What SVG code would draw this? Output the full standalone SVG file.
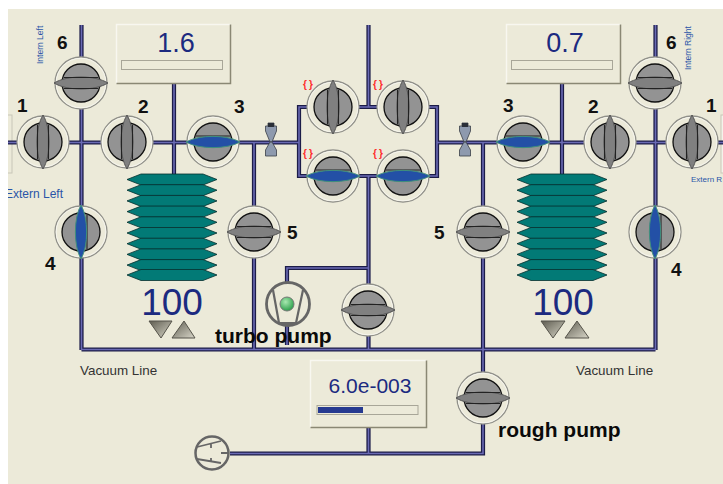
<svg xmlns="http://www.w3.org/2000/svg" xmlns:xlink="http://www.w3.org/1999/xlink" width="723" height="484" viewBox="0 0 723 484">
<style>
text{font-family:"Liberation Sans",Arial,sans-serif}
.po{fill:none;stroke:#1c1c48;stroke-width:4.2}
.pi{fill:none;stroke:#6a6ab4;stroke-width:1.6}
.num{font-size:19px;font-weight:bold;fill:#111}
.big{font-weight:bold;font-size:21px;fill:#0a0a0a}
.val{fill:#1c2a80}
.vac{font-size:13.400px;fill:#333}
.blue{fill:#2a55a8}
.red{font-size:10px;fill:#ff2a2a;letter-spacing:2px;font-weight:bold}
.ring{fill:#ecead9;stroke:#90908a;stroke-width:1.300}
.ring2{fill:none;stroke:#f6f5ee;stroke-width:1}
.disk{fill:#939393;stroke:#111;stroke-width:1.300}
.bg{fill:#ecead9}
.hl{fill:none;stroke:#f8f7f0;stroke-width:1.500}
.sh{fill:none;stroke:#8a8874;stroke-width:1.500}
.bar{fill:#ecead9;stroke:#a8a698}
.bl{fill:#027a76;stroke:#06302f;stroke-width:.8}
.hv{fill:#8e9aae;stroke:#3a3f48;stroke-width:.8}
</style>
<defs>
<g id="base">
<circle class="ring" r="26"/><circle class="ring2" r="24.800"/><circle class="disk" r="19"/>
</g>
<g id="vh">
<use xlink:href="#base"/>
<path d="M-27 0C-14-8 14-8 27 0C14 8-14 8-27 0Z" fill="#808080" stroke="#555" stroke-width="1"/>
<path d="M-17-5.500H17M-17 5.500H17" stroke="#222" stroke-width="1.100" fill="none"/>
</g>
<g id="vb">
<use xlink:href="#base"/>
<path d="M-17-6H17" stroke="#222" stroke-width="1.100" fill="none"/>
<path d="M-27 0C-14-7.500 14-7.500 27 0C14 7.500-14 7.500-27 0Z" fill="#2350a6" stroke="#3f8f7c" stroke-width="1"/>
</g>
<g id="hour">
<path class="hv" d="M-3-19H3V-16H5.500V-11L1 0H-1L-5.500-11V-16H-3Z"/>
<path class="hv" d="M-1 0H1L5.500 8V14H-5.500V8Z"/>
<rect x="-3" y="-19" width="6" height="4" fill="#2a2f38"/>
</g>
<g id="bell">
<path class="bl" d="M-31-5.500H31L45 0L31 5.500H-31L-45 0Z"/>
</g>
<linearGradient id="tr" x1="0" y1="0" x2="1" y2="1"><stop offset="0" stop-color="#5e5c50"/><stop offset="1" stop-color="#d8d6c8"/></linearGradient>
<radialGradient id="led" cx=".4" cy=".35" r=".7"><stop offset="0" stop-color="#a8e8b0"/><stop offset="1" stop-color="#259a45"/></radialGradient>
</defs>
<rect width="723" height="484" fill="#fff"/>
<rect x="8" y="9" width="715" height="475" fill="#ecead9"/>
<rect x="4" y="115" width="8" height="58" fill="none" stroke="#c8c6b8"/>
<rect x="721" y="115" width="8" height="58" fill="#f4f3ea" stroke="#c8c6b8"/>
<g id="connectors">
<path id="pipes" class="po" d="M8 142.500H299M437 142.500H723M299 107H437V176H299ZM368.500 25V107M368.500 176V350M368.500 427V453M230 453.500H483V142.500M254 142.500V350M81.500 25V350M655.500 25V350M81.500 349.500H655.500M174 83V174M562 83V174M287 345V268H368.500"/>
<path class="pi" d="M8 142.500H299M437 142.500H723M299 107H437V176H299ZM368.500 25V107M368.500 176V350M368.500 427V453M230 453.500H483V142.500M254 142.500V350M81.500 25V350M655.500 25V350M81.500 349.500H655.500M174 83V174M562 83V174M287 345V268H368.500"/>
</g>
<g id="bellows-left" transform="translate(172 0)">
<use xlink:href="#bell" y="179.500"/><use xlink:href="#bell" y="190.200"/><use xlink:href="#bell" y="200.900"/><use xlink:href="#bell" y="211.600"/><use xlink:href="#bell" y="222.300"/><use xlink:href="#bell" y="233"/><use xlink:href="#bell" y="243.700"/><use xlink:href="#bell" y="254.400"/><use xlink:href="#bell" y="265.100"/><use xlink:href="#bell" y="275"/>
</g>
<g id="bellows-right" transform="translate(562 0)">
<use xlink:href="#bell" y="179.500"/><use xlink:href="#bell" y="190.200"/><use xlink:href="#bell" y="200.900"/><use xlink:href="#bell" y="211.600"/><use xlink:href="#bell" y="222.300"/><use xlink:href="#bell" y="233"/><use xlink:href="#bell" y="243.700"/><use xlink:href="#bell" y="254.400"/><use xlink:href="#bell" y="265.100"/><use xlink:href="#bell" y="275"/>
</g>
<g id="gauge-left">
<rect class="bg" x="116.500" y="24.500" width="114" height="59"/>
<path class="hl" d="M116.500 83.500V24.500H230.500"/><path class="sh" d="M116.500 83.500H230.500V24.500"/>
<rect class="bar" x="121.500" y="60.500" width="101" height="9"/>
<text class="val" x="176" y="52" font-size="27" text-anchor="middle">1.6</text>
</g>
<g id="gauge-right">
<rect class="bg" x="506.500" y="24.500" width="114" height="59"/>
<path class="hl" d="M506.500 83.500V24.500H620.500"/><path class="sh" d="M506.500 83.500H620.500V24.500"/>
<rect class="bar" x="511.500" y="60.500" width="101" height="9"/>
<text class="val" x="565" y="52" font-size="27" text-anchor="middle">0.7</text>
</g>
<g id="gauge-bottom">
<rect class="bg" x="310.500" y="360.500" width="116" height="67"/>
<path class="hl" d="M310.500 427.500V360.500H426.500"/><path class="sh" d="M310.500 427.500H426.500V360.500"/>
<rect class="bar" x="317" y="405.500" width="101" height="9"/>
<rect x="318" y="407" width="45" height="6" fill="#263a90"/>
<text class="val" x="370" y="393" font-size="21" text-anchor="middle">6.0e-003</text>
</g>
<g id="valve-l6"><use xlink:href="#vh" transform="translate(81 83)"/></g>
<g id="valve-l1"><use xlink:href="#vh" transform="translate(43 142) rotate(90)"/></g>
<g id="valve-l2"><use xlink:href="#vh" transform="translate(127 142) rotate(90)"/></g>
<g id="valve-l3"><use xlink:href="#vb" transform="translate(213 142)"/></g>
<g id="valve-l4"><use xlink:href="#vb" transform="translate(81 232) rotate(90)"/></g>
<g id="valve-l5"><use xlink:href="#vh" transform="translate(254 232)"/></g>
<g id="valve-c1"><use xlink:href="#vh" transform="translate(333 107) rotate(90)"/></g>
<g id="valve-c2"><use xlink:href="#vh" transform="translate(403 107) rotate(90)"/></g>
<g id="valve-c3"><use xlink:href="#vb" transform="translate(333 176)"/></g>
<g id="valve-c4"><use xlink:href="#vb" transform="translate(403 176)"/></g>
<g id="valve-r3"><use xlink:href="#vb" transform="translate(523 142)"/></g>
<g id="valve-r2"><use xlink:href="#vh" transform="translate(610 142) rotate(90)"/></g>
<g id="valve-r1"><use xlink:href="#vh" transform="translate(692 142) rotate(90)"/></g>
<g id="valve-r6"><use xlink:href="#vh" transform="translate(655 83)"/></g>
<g id="valve-r4"><use xlink:href="#vb" transform="translate(655 232) rotate(90)"/></g>
<g id="valve-r5"><use xlink:href="#vh" transform="translate(483 232)"/></g>
<g id="valve-turbo"><use xlink:href="#vh" transform="translate(368 310)"/></g>
<g id="valve-rough"><use xlink:href="#vh" transform="translate(483 398)"/></g>
<g id="hourglass-left"><use xlink:href="#hour" transform="translate(271 142)"/></g>
<g id="hourglass-right"><use xlink:href="#hour" transform="translate(465 142)"/></g>
<g id="turbo-pump">
<circle cx="288" cy="304" r="21.500" fill="#ecead9" stroke="#666" stroke-width="2.800"/>
<path d="M273 290L279 323M303 290L296 323M279 323H296" fill="none" stroke="#666" stroke-width="2.200"/>
<circle cx="287" cy="304" r="7" fill="url(#led)" stroke="#777" stroke-width="1"/>
</g>
<g id="rough-pump">
<circle cx="212" cy="453" r="16.500" fill="#ecead9" stroke="#666" stroke-width="2.500"/>
<path d="M197 447L221 441M197 459L221 463M211 444V448M211 458V462M221 453H228" fill="none" stroke="#666" stroke-width="1.800"/>
</g>
<g id="triangles">
<path d="M149 321H172L161 338Z" fill="url(#tr)" stroke="#55534a"/>
<path d="M172 338H195L184 321Z" fill="url(#tr)" stroke="#55534a"/>
<path d="M541 321H565L553 338Z" fill="url(#tr)" stroke="#55534a"/>
<path d="M565 338H589L577 321Z" fill="url(#tr)" stroke="#55534a"/>
</g>
<g id="labels">
<text class="num" x="17" y="112">1</text><text class="num" x="138" y="113">2</text><text class="num" x="234" y="113">3</text>
<text class="num" x="57" y="49">6</text><text class="num" x="45" y="270">4</text><text class="num" x="287" y="239">5</text>
<text class="num" x="434" y="239">5</text><text class="num" x="503" y="112">3</text><text class="num" x="588" y="113">2</text>
<text class="num" x="706" y="112">1</text><text class="num" x="666" y="49">6</text><text class="num" x="671" y="276">4</text>
<text class="val" x="172" y="315" font-size="37" text-anchor="middle">100</text>
<text class="val" x="563" y="315" font-size="37" text-anchor="middle">100</text>
<text class="big" x="215" y="343">turbo pump</text>
<text class="big" x="498" y="437">rough pump</text>
<text class="vac" x="80" y="375">Vacuum Line</text>
<text class="vac" x="576" y="375">Vacuum Line</text>
<text class="blue" x="5" y="198" font-size="12">Extern Left</text>
<text class="blue" x="691" y="182" font-size="8">Extern R</text>
<text class="blue" transform="translate(43 64) rotate(-90)" font-size="8.500">Intern Left</text>
<text class="blue" transform="translate(691 70) rotate(-90)" font-size="8.500">Intern Right</text>
<text class="red" x="303" y="88">{}</text><text class="red" x="373" y="88">{}</text>
<text class="red" x="303" y="157">{}</text><text class="red" x="373" y="157">{}</text>
</g>
<rect x="0" y="0" width="8" height="484" fill="#fff"/>
</svg>
